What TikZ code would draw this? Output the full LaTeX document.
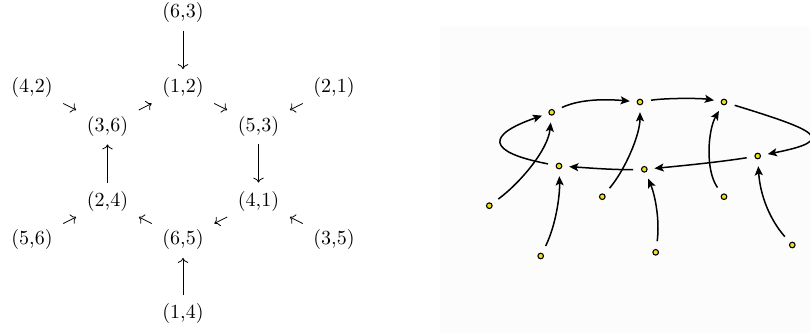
\documentclass[tikz,border=0pt]{standalone}
\usetikzlibrary{arrows.meta}
\definecolor{dotyellow}{RGB}{240,228,20}
\definecolor{panelbg}{RGB}{252,252,252}
\begin{document}
\begin{tikzpicture}[x=0.5pt,y=-0.5pt,
  lbl/.style={inner sep=0pt},
  darr/.style={->, line width=0.4pt, shorten <=17.6pt, shorten >=17.6pt},
  varr/.style={->, line width=0.4pt, shorten <=9.2pt, shorten >=9.2pt},
  dot/.style={circle, draw, fill=dotyellow, line width=0.55pt, minimum size=2.8pt, inner sep=0pt, outer sep=3.2pt},
  cur/.style={-{Stealth[length=4.6pt,width=4pt,inset=1pt]}, line width=0.75pt, shorten <=1pt, shorten >=0.5pt}]
\useasboundingbox (0,0) rectangle (810,333);
\fill[panelbg] (440,26) rectangle (810,333);
% left diagram
\node[lbl] (n63) at (183,12.5) {(6,3)};
\node[lbl] (n42) at (32,87.5) {(4,2)};
\node[lbl] (n12) at (183,87.5) {(1,2)};
\node[lbl] (n21) at (334,87.5) {(2,1)};
\node[lbl] (n36) at (107.5,126) {(3,6)};
\node[lbl] (n53) at (258.5,126) {(5,3)};
\node[lbl] (n24) at (107.5,201) {(2,4)};
\node[lbl] (n41) at (258.5,201) {(4,1)};
\node[lbl] (n56) at (32,239.5) {(5,6)};
\node[lbl] (n65) at (183,239.5) {(6,5)};
\node[lbl] (n35) at (334,239.5) {(3,5)};
\node[lbl] (n14) at (183,313.5) {(1,4)};
\draw[varr] (n63.center) -- (n12.center);
\draw[darr] (n42.center) -- (n36.center);
\draw[darr] (n36.center) -- (n12.center);
\draw[darr] (n12.center) -- (n53.center);
\draw[darr] (n21.center) -- (n53.center);
\draw[varr] (n53.center) -- (n41.center);
\draw[varr] (n24.center) -- (n36.center);
\draw[darr] (n56.center) -- (n24.center);
\draw[darr] (n65.center) -- (n24.center);
\draw[darr] (n41.center) -- (n65.center);
\draw[darr] (n35.center) -- (n41.center);
\draw[varr] (n14.center) -- (n65.center);
% right diagram
\node[dot] (A) at (551.7,112.3) {};
\node[dot] (B) at (640,102) {};
\node[dot] (C) at (724,102) {};
\node[dot] (D) at (757.7,156) {};
\node[dot] (E) at (644.3,169.3) {};
\node[dot] (F) at (559,166) {};
\node[dot] (G) at (489.3,205.7) {};
\node[dot] (H) at (602.3,196.7) {};
\node[dot] (I) at (724,196.7) {};
\node[dot] (J) at (540.7,256) {};
\node[dot] (K) at (655.7,252.3) {};
\node[dot] (L) at (792.3,245) {};
\draw[cur] (A) .. controls (580,99) and (605,99) .. (B);
\draw[cur] (B) .. controls (665,98) and (700,98) .. (C);
\draw[cur] (C) .. controls (815,130) and (840,140) .. (D);
\draw[cur] (D) .. controls (720,162) and (680,166) .. (E);
\draw[cur] (E) .. controls (615,170) and (590,168) .. (F);
\draw[cur] (F) .. controls (486,152) and (486,135) .. (A);
\draw[cur] (G) .. controls (520,183) and (548,150) .. (A);
\draw[cur] (H) .. controls (625,170) and (640,135) .. (B);
\draw[cur] (I) .. controls (705,170) and (708,130) .. (C);
\draw[cur] (J) .. controls (556,225) and (560,195) .. (F);
\draw[cur] (K) .. controls (660,220) and (655,195) .. (E);
\draw[cur] (L) .. controls (770,220) and (760,195) .. (D);
\end{tikzpicture}
\end{document}
